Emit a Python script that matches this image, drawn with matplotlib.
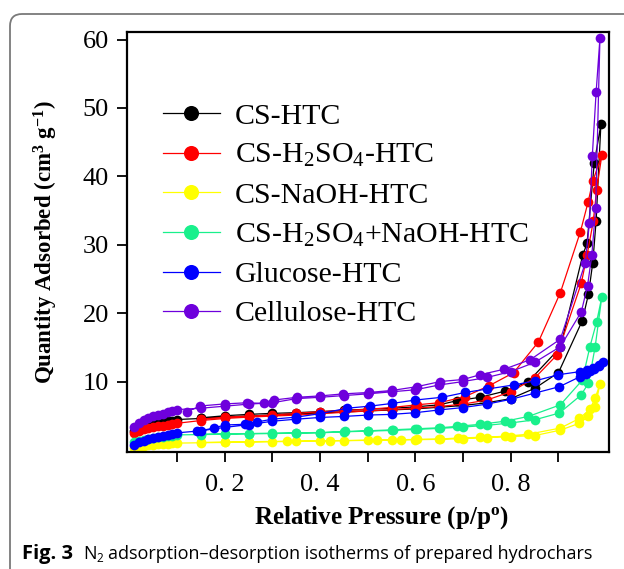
import matplotlib
matplotlib.use("Agg")
import matplotlib.pyplot as plt
from matplotlib.patches import FancyBboxPatch
import numpy as np

plt.rcParams['font.family'] = ['Liberation Serif', 'DejaVu Serif']
plt.rcParams['mathtext.fontset'] = 'custom'
plt.rcParams['mathtext.rm'] = 'Liberation Serif'
plt.rcParams['mathtext.it'] = 'Liberation Serif:italic'
plt.rcParams['mathtext.bf'] = 'Liberation Serif:bold'

# shared relative pressure points (adsorption branch)
p_low = [0.01, 0.02, 0.03, 0.04, 0.05, 0.06, 0.07, 0.08, 0.09, 0.10]
p_mid = [0.15, 0.20, 0.25, 0.30, 0.35, 0.40, 0.45, 0.50, 0.55, 0.60, 0.65, 0.70, 0.75, 0.80, 0.85]

labels = ['CS-HTC', 'CS-H$_2$SO$_4$-HTC', 'CS-NaOH-HTC',
          'CS-H$_2$SO$_4$+NaOH-HTC', 'Glucose-HTC', 'Cellulose-HTC']
colors = ['#000000', '#FF0000', '#FFFF00', '#19F08C', '#0000FF', '#6E00DC']

# CS-HTC
cs_low = [2.8, 3.25, 3.5, 3.7, 3.85, 4.0, 4.1, 4.2, 4.3, 4.45]
cs_mid = [4.6, 4.8, 4.95, 5.1, 5.25, 5.4, 5.55, 5.7, 5.85, 6.0, 6.25, 6.5, 6.9, 7.5, 9.0]
cs_hi_x = [0.90, 0.95, 0.963, 0.972, 0.979, 0.989]
cs_hi_y = [11.3, 18.9, 22.8, 27.4, 33.5, 47.6]
cs_des_x = [0.975, 0.96, 0.951, 0.904, 0.837, 0.788, 0.736, 0.687, 0.65, 0.60, 0.55, 0.50, 0.45, 0.40, 0.35, 0.30, 0.25, 0.20, 0.15]
cs_des_y = [41.9, 30.2, 28.5, 15.0, 10.0, 8.6, 7.7, 7.2, 6.6, 6.3, 6.1, 5.95, 5.8, 5.6, 5.45, 5.35, 5.2, 5.0, 4.7]

# CS-H2SO4-HTC
acid_low = [2.5, 2.8, 3.0, 3.15, 3.3, 3.45, 3.55, 3.65, 3.75, 3.9]
acid_mid = [4.3, 4.6, 4.8, 4.95, 5.1, 5.3, 5.5, 5.7, 5.9, 6.1, 6.35, 6.7, 7.3, 8.5, 10.5]
acid_hi_x = [0.897, 0.948, 0.96, 0.973, 0.98, 0.991]
acid_hi_y = [13.9, 24.4, 28.5, 33.4, 38.0, 43.1]
acid_des_x = [0.972, 0.962, 0.946, 0.904, 0.858, 0.806, 0.755, 0.704, 0.65, 0.603, 0.55, 0.50, 0.45, 0.40, 0.35, 0.30, 0.25, 0.20, 0.15]
acid_des_y = [39.3, 36.2, 31.9, 23.0, 15.8, 11.3, 9.4, 7.8, 6.9, 6.6, 6.2, 5.95, 5.75, 5.6, 5.35, 5.1, 4.95, 4.8, 4.5]

# CS-NaOH-HTC
base_low = [0.3, 0.5, 0.6, 0.7, 0.75, 0.8, 0.85, 0.9, 0.95, 1.0]
base_mid = [1.05, 1.1, 1.15, 1.2, 1.25, 1.3, 1.35, 1.4, 1.45, 1.5, 1.55, 1.65, 1.8, 1.95, 2.1]
base_hi_x = [0.904, 0.944, 0.963, 0.977, 0.987]
base_hi_y = [2.9, 3.9, 4.9, 6.3, 9.6]
base_des_x = [0.977, 0.966, 0.944, 0.904, 0.837, 0.788, 0.736, 0.69, 0.652, 0.603, 0.57, 0.52, 0.42, 0.33, 0.25, 0.20, 0.15]
base_des_y = [7.6, 5.95, 4.6, 3.2, 2.3, 2.0, 1.85, 1.75, 1.6, 1.55, 1.5, 1.45, 1.35, 1.28, 1.2, 1.15, 1.1]

# CS-H2SO4+NaOH-HTC
both_low = [1.1, 1.35, 1.5, 1.65, 1.75, 1.85, 1.95, 2.05, 2.1, 2.2]
both_mid = [2.25, 2.3, 2.35, 2.4, 2.45, 2.5, 2.65, 2.75, 2.85, 3.0, 3.15, 3.35, 3.6, 3.95, 4.4]
both_hi_x = [0.902, 0.947, 0.963, 0.977, 0.991]
both_hi_y = [5.4, 8.0, 9.75, 15.1, 22.4]
both_des_x = [0.98, 0.966, 0.95, 0.904, 0.837, 0.788, 0.736, 0.687, 0.652, 0.603, 0.553, 0.50, 0.453, 0.40, 0.35, 0.30, 0.25, 0.20, 0.15]
both_des_y = [18.7, 15.1, 10.2, 6.6, 4.9, 4.2, 3.75, 3.45, 3.25, 3.1, 2.95, 2.8, 2.7, 2.55, 2.5, 2.45, 2.4, 2.35, 2.3]

# Glucose-HTC
glu_low = [0.75, 1.1, 1.35, 1.55, 1.75, 1.9, 2.05, 2.2, 2.35, 2.5]
glu_mid = [2.8, 3.3, 3.7, 4.2, 4.5, 4.75, 4.9, 5.1, 5.2, 5.45, 5.85, 6.2, 6.7, 7.4, 8.3]
glu_hi_x = [0.902, 0.945, 0.957, 0.966, 0.975, 0.984, 0.993]
glu_hi_y = [9.25, 10.7, 11.1, 11.5, 11.9, 12.2, 12.8]
glu_des_x = [0.984, 0.972, 0.96, 0.945, 0.90, 0.851, 0.806, 0.75, 0.704, 0.656, 0.60, 0.551, 0.504, 0.456, 0.40, 0.35, 0.30, 0.268, 0.243, 0.20, 0.177, 0.142]
glu_des_y = [12.4, 12.0, 11.7, 11.45, 11.0, 10.1, 9.5, 8.9, 8.4, 7.7, 7.3, 6.8, 6.4, 6.1, 5.3, 4.8, 4.5, 4.1, 3.75, 3.65, 3.2, 2.7]

# Cellulose-HTC
cel_low = [3.4, 4.0, 4.35, 4.65, 4.9, 5.1, 5.3, 5.5, 5.65, 5.9]
cel_mid = [6.1, 6.4, 6.7, 6.9, 7.5, 7.7, 7.95, 8.2, 8.5, 8.8, 9.5, 10.0, 10.6, 11.45, 12.8]
cel_hi_x = [0.904, 0.948, 0.961, 0.97, 0.978, 0.987]
cel_hi_y = [15.1, 20.2, 24.0, 28.5, 35.3, 60.2]
cel_des_x = [0.979, 0.971, 0.965, 0.956, 0.904, 0.841, 0.786, 0.736, 0.70, 0.652, 0.603, 0.551, 0.502, 0.449, 0.40, 0.352, 0.303, 0.282, 0.247, 0.20, 0.149, 0.121]
cel_des_y = [52.3, 43.0, 33.2, 27.3, 16.2, 13.2, 11.8, 11.0, 10.3, 10.0, 9.25, 8.7, 8.4, 8.2, 7.9, 7.7, 7.3, 6.8, 6.9, 6.73, 6.43, 5.6]

series = [
    (cs_low, cs_mid, cs_hi_x, cs_hi_y, cs_des_x, cs_des_y),
    (acid_low, acid_mid, acid_hi_x, acid_hi_y, acid_des_x, acid_des_y),
    (base_low, base_mid, base_hi_x, base_hi_y, base_des_x, base_des_y),
    (both_low, both_mid, both_hi_x, both_hi_y, both_des_x, both_des_y),
    (glu_low, glu_mid, glu_hi_x, glu_hi_y, glu_des_x, glu_des_y),
    (cel_low, cel_mid, cel_hi_x, cel_hi_y, cel_des_x, cel_des_y),
]

fig = plt.figure(figsize=(6.24, 5.69), dpi=100)

# rounded figure frame, cut off at the right and bottom like the source page
frame = FancyBboxPatch((0.10, -1.0), 7.5, 6.55, boxstyle="round,pad=0,rounding_size=0.12",
                       transform=fig.dpi_scale_trans, facecolor='none',
                       edgecolor='#7a7a7a', linewidth=1.3)
fig.patches.append(frame)

ax = fig.add_axes([127 / 624, 1 - 452 / 569, 482 / 624, 420 / 569])

for (low, mid, hx, hy, dx, dy), lab, col in zip(series, labels, colors):
    x = np.concatenate([p_low, p_mid, hx, dx])
    y = np.concatenate([low, mid, hy, dy])
    ax.plot(x, y, '-o', color=col, lw=0.9, ms=7, mec='none', label=lab)

ax.set_xlim(-0.005, 1.006)
ax.set_ylim(-0.3, 61.1)

ax.set_yticks([10, 20, 30, 40, 50, 60])
ax.set_xticks([0.2, 0.4, 0.6, 0.8])
ax.set_xticklabels(['0. 2', '0. 4', '0. 6', '0. 8'])
ax.set_xticks([0.1, 0.3, 0.5, 0.7, 0.9], minor=True)
ax.tick_params(axis='both', which='both', direction='out', length=7, width=1.3, labelsize=19)
ax.tick_params(axis='x', which='major', pad=9)
ax.tick_params(axis='y', pad=6)
for s in ax.spines.values():
    s.set_linewidth(1.6)

ax.set_ylabel('Quantity Adsorbed (cm$^{\\mathbf{3}}$ g$^{\\mathbf{-1}}$)', fontsize=16.5, fontweight='bold')
ax.yaxis.set_label_coords(-0.14, 0.5)
ax.set_xlabel('Relative Pressure (p/p$^{\\mathbf{o}}$)', fontsize=18, fontweight='bold')
ax.xaxis.set_label_coords(0.527, -0.125)

leg = ax.legend(loc='upper left', bbox_to_anchor=(0.05, 0.86), frameon=False, fontsize=21.5,
                markerscale=1.55, handlelength=1.9, handletextpad=0.5, labelspacing=0.42,
                borderaxespad=0)

# caption, pieces laid out one after the other
cap_font = ['Open Sans', 'DejaVu Sans']
y_base = 1 - 559 / 569
renderer = fig.canvas.get_renderer()
pieces = [('Fig. 3', 14.5, 'bold', 0), ('N', 13, 'normal', 0), ('2', 8.5, 'normal', -3.5),
          ('adsorption\u2013desorption isotherms of prepared hydrochars', 13, 'normal', 0)]
gaps = [10, 0, 5, 0]
x_px = 22
for (txt, fs, fw, dy), gap in zip(pieces, gaps):
    tt = fig.text(x_px / 624, y_base + dy / 569, txt, fontsize=fs, fontweight=fw,
                  family=cap_font, va='baseline')
    bb = tt.get_window_extent(renderer)
    x_px = bb.x1 + gap

fig.savefig('out.png', dpi=100)
